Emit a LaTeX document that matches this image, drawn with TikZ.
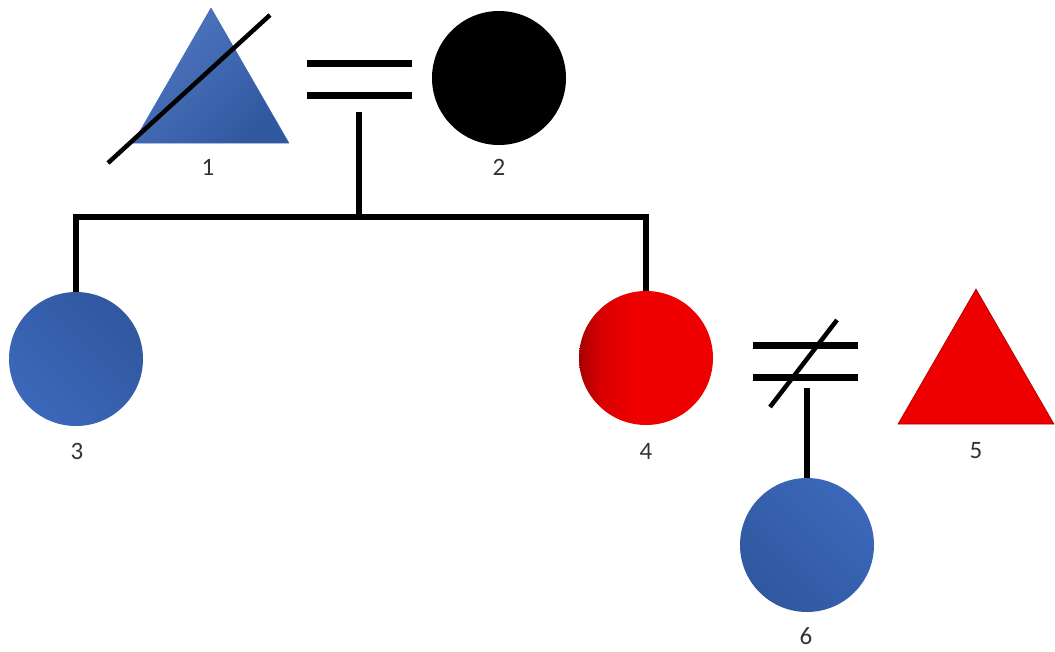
\documentclass[tikz,border=0pt]{standalone}
\usepackage{fontspec}
\setmainfont{Carlito}
\usetikzlibrary{shapes.geometric}
\definecolor{pblue}{HTML}{3C68BA}
\definecolor{pbluedark}{HTML}{30589F}
\definecolor{pred}{HTML}{EE0000}
\definecolor{preddark}{HTML}{A80000}
\definecolor{predmid}{HTML}{D80000}
\pgfdeclarehorizontalshading{redshade}{100bp}{color(0bp)=(preddark); color(25bp)=(preddark); color(33bp)=(predmid); color(45bp)=(pred); color(100bp)=(pred)}
\tikzset{
  person/.style={circle, inner sep=0pt, outer sep=0pt, minimum size=134pt},
  male/.style={regular polygon, regular polygon sides=3, inner sep=0pt, outer sep=0pt, minimum size=180pt},
  lbl/.style={font=\fontsize{25}{29}\selectfont, text=black!80},
  rel/.style={line width=7pt},
  link/.style={line width=5.5pt},
  slash/.style={line width=4.5pt},
}
\begin{document}
\begin{tikzpicture}[x=1pt,y=-1pt]
\useasboundingbox (0,0) rectangle (1055,651);
% persons
\node[male, left color=pblue!90!white, right color=pbluedark, shading angle=45, draw=pblue, line width=0.5pt] (p1) at (211,98) {};
\node[person, fill=black] (p2) at (499,78) {};
\node[person, left color=pblue, right color=pbluedark, shading angle=135] (p3) at (76,359) {};
\node[person, shading=redshade] (p4) at (646,358) {};
\node[male, fill=pred, draw=pred!70!black, line width=0.6pt] (p5) at (976,379) {};
\node[person, left color=pblue, right color=pbluedark, shading angle=-45] (p6) at (807,545) {};
% labels
\node[lbl] (l1) at (208,167) {1};
\node[lbl] (l2) at (499,167) {2};
\node[lbl] (l3) at (77,451) {3};
\node[lbl] (l4) at (646,451) {4};
\node[lbl] (l5) at (976,451) {5};
\node[lbl] (l6) at (806,636) {6};
% deceased slash
\coordinate (s1a) at (108,163);
\coordinate (s1b) at (270,15);
\draw[slash] (s1a) -- (s1b);
% marriage 1-2
\coordinate (m1a) at (307,63);
\coordinate (m1b) at (412,63);
\coordinate (m1c) at (307,95);
\coordinate (m1d) at (412,95);
\draw[rel] (m1a) -- (m1b);
\draw[rel] (m1c) -- (m1d);
\coordinate (d1) at (359,112);
\coordinate (sibM) at (359,217);
\coordinate (sibL) at (p3.north |- sibM);
\coordinate (sibR) at (p4.north |- sibM);
\draw[link] (d1) -- (sibM);
\draw[link, line cap=rect] (sibL) -- (sibR);
\draw[link] (sibL) -- (p3.north);
\draw[link] (sibR) -- (p4.north);
% union 4-5 (separated)
\coordinate (m2a) at (753,345);
\coordinate (m2b) at (858,345);
\coordinate (m2c) at (753,377);
\coordinate (m2d) at (858,377);
\draw[rel] (m2a) -- (m2b);
\draw[rel] (m2c) -- (m2d);
\coordinate (s2a) at (770,407);
\coordinate (s2b) at (837,320);
\draw[slash] (s2a) -- (s2b);
\coordinate (d2) at (p6.north |- 0,388);
\draw[link] (d2) -- (p6.north);
\end{tikzpicture}
\end{document}
